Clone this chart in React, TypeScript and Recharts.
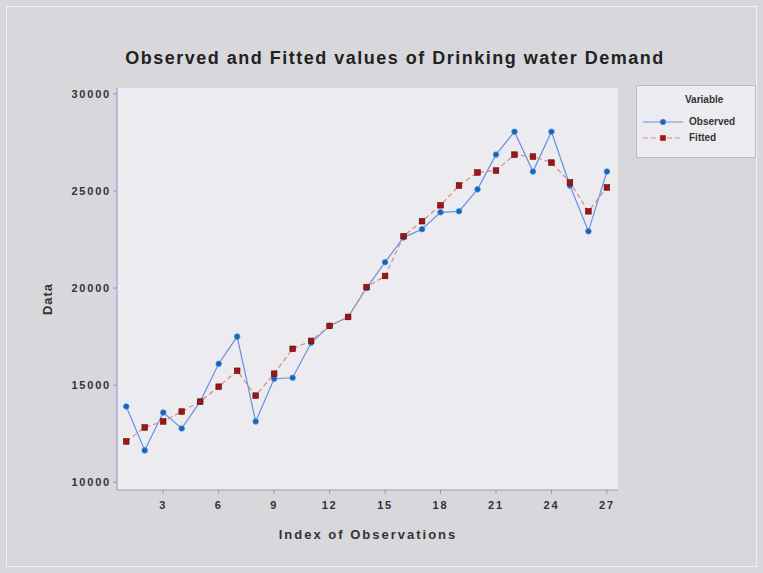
import { LineChart, Line, XAxis, YAxis, CartesianGrid } from 'recharts';

const index = [
  1, 2, 3, 4, 5, 6, 7, 8, 9, 10, 11, 12, 13, 14, 15, 16, 17, 18, 19, 20, 21, 22, 23, 24, 25, 26, 27,
];
const observed = [
  13900, 11640, 13590, 12770, 14150, 16100, 17500, 13130, 15330, 15380, 17180, 18050, 18510, 20000,
  21330, 22610, 23030, 23900, 23950, 25080, 26870, 28050, 26000, 28050, 25280, 22920, 26000,
];
const fitted = [
  12100, 12820, 13130, 13640, 14150, 14920, 15740, 14460, 15590, 16870, 17280, 18050, 18510, 20050,
  20620, 22670, 23440, 24260, 25280, 25950, 26050, 26870, 26770, 26460, 25440, 23950, 25180,
];
const xTicks = [3, 6, 9, 12, 15, 18, 21, 24, 27];
const yTicks = [10000, 15000, 20000, 25000, 30000];

const data = index.map((i, k) => ({ index: i, observed: observed[k], fitted: fitted[k] }));

const BLUE = '#1f5cc4';
const BLUE_LINE = '#6a8fe0';
const RED = '#a01414';
const RED_LINE = '#d88a8a';

const Circle = (props: any) => {
  const { cx, cy } = props;
  if (cx == null || cy == null) return null;
  return <circle cx={cx} cy={cy} r={2.8} fill={BLUE} stroke="#3aa0c0" strokeWidth={0.8} />;
};

const Square = (props: any) => {
  const { cx, cy } = props;
  if (cx == null || cy == null) return null;
  return <rect x={cx - 2.8} y={cy - 2.8} width={5.6} height={5.6} fill={RED} stroke="#5a0a0a" strokeWidth={0.6} />;
};

export default function App() {
  const font = 'Arial, "Liberation Sans", sans-serif';
  const tickStyle = { fontSize: 11, fill: '#333', fontWeight: 'bold', letterSpacing: 1.8 };
  return (
    <div
      style={{
        position: 'absolute',
        left: 0,
        top: 0,
        width: 763,
        height: 573,
        background: '#d8d8dc',
        fontFamily: font,
      }}
    >
      <div
        style={{
          position: 'absolute',
          left: 6,
          top: 6,
          width: 749,
          height: 559,
          border: '1px solid #f2f2f4',
        }}
      />
      <div
        style={{
          position: 'absolute',
          left: 0,
          width: 790,
          top: 48,
          textAlign: 'center',
          fontSize: 18,
          letterSpacing: 1.5,
          fontWeight: 'bold',
          color: '#222',
        }}
      >
        Observed and Fitted values of Drinking water Demand
      </div>
      <div
        style={{
          position: 'absolute',
          left: 118,
          width: 500,
          top: 527,
          textAlign: 'center',
          fontSize: 13,
          letterSpacing: 2,
          fontWeight: 'bold',
          color: '#333',
        }}
      >
        Index of Observations
      </div>
      <div
        style={{
          position: 'absolute',
          left: 47,
          top: 299,
          transform: 'translate(-50%, -50%) rotate(-90deg)',
          fontSize: 13,
          letterSpacing: 1,
          fontWeight: 'bold',
          color: '#333',
        }}
      >
        Data
      </div>
      <div style={{ position: 'absolute', left: 0, top: 0 }}>
        <LineChart
          width={763}
          height={573}
          data={data}
          margin={{ top: 88, right: 145, bottom: 53, left: 57 }}
        >
          <CartesianGrid fill="#ececf0" horizontal={false} vertical={false} />
          <XAxis
            dataKey="index"
            type="number"
            domain={[0.5, 27.6]}
            ticks={xTicks}
            height={30}
            tick={tickStyle}
            tickSize={4}
            tickMargin={7}
            stroke="#9a9aa4"
          />
          <YAxis
            type="number"
            domain={[9600, 30300]}
            ticks={yTicks}
            width={60}
            tick={tickStyle}
            tickSize={4}
            stroke="#8f8fd0"
          />
          <Line
            dataKey="observed"
            stroke={BLUE_LINE}
            strokeWidth={1.2}
            dot={<Circle />}
            isAnimationActive={false}
          />
          <Line
            dataKey="fitted"
            stroke={RED_LINE}
            strokeWidth={1.2}
            strokeDasharray="5 3"
            dot={<Square />}
            isAnimationActive={false}
          />
        </LineChart>
      </div>
      <div
        style={{
          position: 'absolute',
          left: 636,
          top: 85,
          width: 118,
          height: 71,
          background: '#ececf0',
          border: '1px solid #b8b8c8',
          fontSize: 10,
          fontWeight: 'bold',
          color: '#333',
        }}
      >
        <div style={{ position: 'absolute', left: 48, top: 8 }}>Variable</div>
        <svg style={{ position: 'absolute', left: 4, top: 28 }} width={44} height={36}>
          <line x1={2} y1={8} x2={42} y2={8} stroke={BLUE_LINE} strokeWidth={1.2} />
          <circle cx={22} cy={8} r={2.8} fill={BLUE} stroke="#3aa0c0" strokeWidth={0.8} />
          <line x1={2} y1={24} x2={42} y2={24} stroke={RED_LINE} strokeWidth={1.2} strokeDasharray="5 3" />
          <rect x={19.2} y={21.2} width={5.6} height={5.6} fill={RED} />
        </svg>
        <div style={{ position: 'absolute', left: 52, top: 30 }}>Observed</div>
        <div style={{ position: 'absolute', left: 52, top: 46 }}>Fitted</div>
      </div>
    </div>
  );
}
